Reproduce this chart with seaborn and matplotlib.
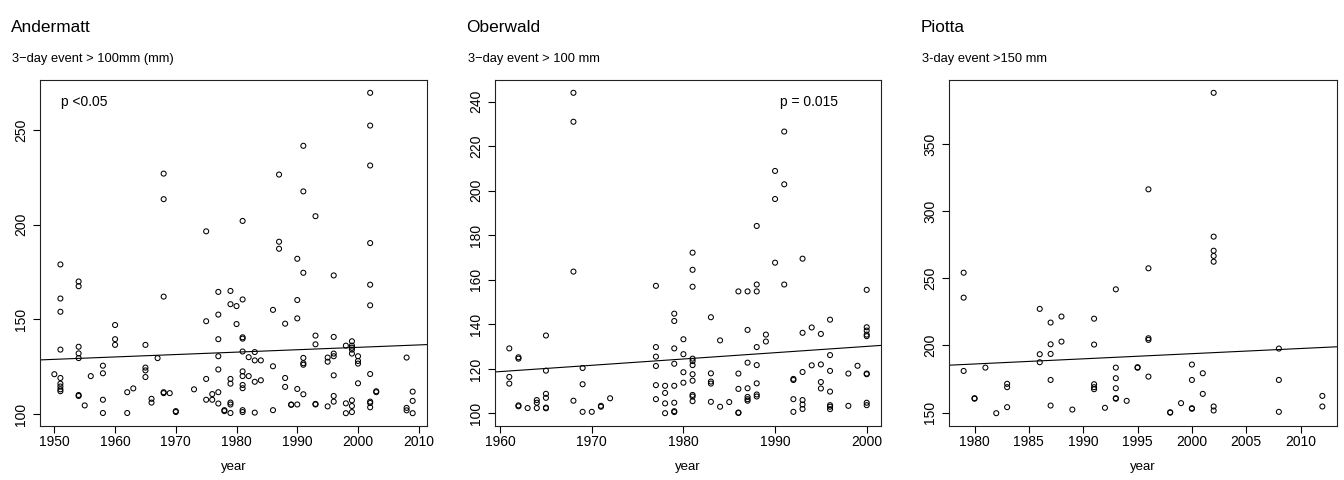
import numpy as np
import pandas as pd
import matplotlib
matplotlib.use("Agg")
import matplotlib.pyplot as plt
import seaborn as sns

# ---------------- data ----------------
andermatt_years = (
    [1950] + [1951] * 9 + [1954] * 7 + [1955, 1956] + [1958] * 4 + [1960] * 3 +
    [1962] * 2 + [1963] + [1965] * 4 + [1966] * 2 + [1967] + [1968] * 5 + [1969] +
    [1970] * 2 + [1973] + [1975] * 4 + [1976] * 2 + [1977] * 7 + [1978] * 2 +
    [1979] * 7 + [1980] * 2 + [1981] * 11 + [1982] * 2 + [1983] * 4 + [1984] * 2 +
    [1986] * 3 + [1987] * 3 + [1988] * 3 + [1989] * 2 + [1990] * 5 + [1991] * 7 +
    [1993] * 5 + [1995] * 3 + [1996] * 7 + [1998] * 3 + [1999] * 8 + [2000] * 4 +
    [2002] * 10 + [2003] * 2 + [2008] * 3 + [2009] * 3
)
andermatt_values = [
    121,
    179, 161, 154, 134, 119, 116, 114.5, 113, 112,
    170, 167.5, 135.5, 132, 129.5, 110, 109.5,
    104.5, 120,
    125.5, 121.5, 107.5, 100.5,
    147, 139.5, 136.5,
    111.5, 100.5,
    113.5,
    136.5, 124.5, 123, 119.5,
    108, 106,
    129.5,
    227, 213.5, 162, 111.5, 111,
    111,
    101.5, 101,
    113,
    196.5, 149, 118.5, 107.5,
    110.5, 107.5,
    164.5, 152.5, 139.5, 130.5, 123.5, 111.5, 105.5,
    102, 101.5,
    165, 158, 118.5, 116, 106, 105, 100.5,
    157, 147.5,
    202, 160.5, 140.5, 139.8, 133, 122.5, 120, 115.3, 113.6, 102, 101,
    130, 120,
    132.7, 128.3, 117, 100.7,
    128.3, 117.8,
    155, 125.2, 102,
    226.5, 191, 187.3,
    147.7, 119, 114.3,
    105, 104.8,
    182, 160.2, 150.5, 113.2, 105,
    241.7, 217.6, 174.6, 129.6, 126.8, 126, 110.4,
    204.5, 141.4, 136.8, 105.3, 105,
    129.8, 127.6, 104,
    173.2, 140.7, 131.9, 130.5, 120.4, 109.5, 106.5,
    136.1, 105.6, 100.4,
    138.4, 136.1, 135, 134, 131.9, 107.2, 104.2, 101,
    130.5, 128, 126.6, 116.2,
    269.7, 252.4, 231.3, 190.3, 168.3, 157.4, 121.1, 106.5, 105.8, 103.5,
    112, 111.5,
    129.8, 103.2, 101.9,
    111.8, 106.9, 100.4,
]

oberwald_years = (
    [1961] * 3 + [1962] * 4 + [1963] + [1964] * 3 + [1965] * 6 + [1968] * 4 +
    [1969] * 3 + [1970] + [1971] * 2 + [1972] + [1977] * 6 + [1978] * 4 +
    [1979] * 8 + [1980] * 4 + [1981] * 11 + [1983] * 5 + [1984] * 2 + [1985] +
    [1986] * 5 + [1987] * 7 + [1988] * 8 + [1989] * 2 + [1990] * 3 + [1991] * 3 +
    [1992] * 4 + [1993] * 6 + [1994] * 2 + [1995] * 4 + [1996] * 7 + [1998] * 2 +
    [1999] + [2000] * 9
)
oberwald_values = [
    129.2, 116.4, 113.4,
    125.2, 124.6, 103.6, 103.2,
    102.4,
    106, 104.8, 102.4,
    135, 119.2, 108.8, 107, 102.6, 102.3,
    244, 231, 163.7, 105.7,
    120.4, 113.1, 100.7,
    100.7,
    103.4, 103,
    106.8,
    157.3, 129.8, 125.5, 121.3, 112.7, 106.4,
    112.4, 109.2, 104.5, 100.1,
    144.8, 141.5, 129.2, 122.3, 112.4, 104.8, 101, 100.6,
    133.3, 126.6, 118.5, 113.8,
    172.2, 164.5, 156.9, 124.6, 123.5, 121.7, 117.6, 114.7, 108.3, 107.6, 105.5,
    143.2, 118, 114.3, 113.4, 105.2,
    132.8, 103,
    105.1,
    154.8, 117.9, 111, 100.4, 100.2,
    154.8, 137.5, 122.8, 111.3, 107.4, 106.4, 105.7,
    184.2, 157.9, 154.8, 129.8, 121.7, 113.5, 108.5, 107.6,
    135.4, 132.3,
    208.9, 196.3, 167.7,
    226.6, 202.9, 157.9,
    115.5, 115, 106.4, 100.7,
    169.5, 136.2, 118.6, 106, 104, 102,
    138.6, 121.6,
    135.7, 122, 114.1, 111.2,
    142.1, 126.2, 119.1, 109.8, 103.7, 103, 101.9,
    117.9, 103.4,
    121.4,
    155.5, 138.7, 137.2, 135.4, 134.7, 117.9, 117.6, 104.8, 103.7,
]

piotta_years = (
    [1979] * 3 + [1980] * 2 + [1981, 1982] + [1983] * 3 + [1986] * 3 + [1987] * 5 +
    [1988] * 2 + [1989] + [1991] * 5 + [1992] + [1993] * 6 + [1994] + [1995] * 2 +
    [1996] * 5 + [1998] * 2 + [1999] + [2000] * 4 + [2001] * 2 + [2002] * 7 +
    [2008] * 3 + [2012] * 2
)
piotta_values = [
    254.3, 235.7, 181,
    160.7, 160.3,
    183.5, 149.5,
    171.4, 168.9, 154,
    227.3, 193.5, 187.5,
    217.1, 200.9, 193.7, 174.3, 155.2,
    221.6, 202.9,
    152.2,
    220, 200.7, 171.1, 168.9, 167.4,
    153.5,
    241.9, 183.5, 175.6, 168.1, 160.7, 160.3,
    158.7,
    183.8, 183.4,
    316.5, 257.6, 205.4, 204.2, 176.8,
    150.2, 149.9,
    157,
    185.8, 174.3, 153.2, 152.8,
    179.3, 163.9,
    388.5, 281.2, 270.7, 266.8, 262.5, 154.5, 151.5,
    197.7, 174.3, 150.5,
    162.4, 154.5,
]

stations = ["Andermatt", "Oberwald", "Piotta"]
subtitles = ["3\u2212day event > 100mm (mm)", "3\u2212day event > 100 mm", "3-day event >150 mm"]
p_labels = ["p <0.05", "p = 0.015", None]
x_ticks = [[1950, 1960, 1970, 1980, 1990, 2000, 2010],
           [1960, 1970, 1980, 1990, 2000],
           [1980, 1985, 1990, 1995, 2000, 2005, 2010]]
y_ticks = [[100, 150, 200, 250],
           [100, 120, 140, 160, 180, 200, 220, 240],
           [150, 200, 250, 300, 350]]
# linear trend lines: value at year 2000 and slope per year
trend_at_2000 = [135.2, 130.1, 193.9]
trend_slope = [0.127, 0.283, 0.385]

years_all = [andermatt_years, oberwald_years, piotta_years]
values_all = [andermatt_values, oberwald_values, piotta_values]

# ---------------- style ----------------
sns.set_theme(style="ticks")
plt.rcParams["font.family"] = ["Liberation Sans", "DejaVu Sans"]
plt.rcParams["axes.linewidth"] = 0.8
plt.rcParams["text.color"] = "black"
plt.rcParams["axes.labelcolor"] = "black"
plt.rcParams["xtick.color"] = "black"
plt.rcParams["ytick.color"] = "black"
plt.rcParams["axes.edgecolor"] = "black"

fig = plt.figure(figsize=(13.44, 4.8), dpi=100)
W, H = 1344.0, 480.0
ax_lefts = [40, 495, 949.3]
ax_widths = [387, 386, 387.4]
ax_top, ax_bottom = 80, 426
p_pos = [(0.0535, 0.936), (0.738, 0.936), None]

for i in range(3):
    left = ax_lefts[i]
    ax = fig.add_axes([left / W, (H - ax_bottom) / H, ax_widths[i] / W, (ax_bottom - ax_top) / H])
    df = pd.DataFrame({"year": years_all[i], "value": values_all[i]})
    sns.scatterplot(data=df, x="year", y="value", ax=ax, marker="o", s=13,
                    facecolor="none", edgecolor="black", linewidth=0.75, legend=False)
    # R-style 4% axis extension
    xr = df["year"].max() - df["year"].min()
    yr = df["value"].max() - df["value"].min()
    ax.set_xlim(df["year"].min() - 0.04 * xr, df["year"].max() + 0.04 * xr)
    ax.set_ylim(df["value"].min() - 0.04 * yr, df["value"].max() + 0.04 * yr)
    ax.axline((2000, trend_at_2000[i]), slope=trend_slope[i], color="black", linewidth=0.8)
    ax.set_xticks(x_ticks[i])
    ax.set_yticks(y_ticks[i])
    ax.set_xticklabels([str(t) for t in x_ticks[i]], fontsize=10, color="black")
    ax.set_yticklabels([str(t) for t in y_ticks[i]], fontsize=10, rotation=90, va="center",
                       color="black")
    ax.tick_params(axis="both", direction="out", length=4.8, width=0.8, color="black",
                   labelcolor="black")
    ax.tick_params(axis="x", pad=1.5)
    ax.tick_params(axis="y", pad=4)
    for sp in ax.spines.values():
        sp.set_visible(True)
        sp.set_color("#222222")
        sp.set_linewidth(0.8)
    ax.set_xlabel("year", fontsize=9.5, labelpad=9, color="black")
    ax.set_ylabel("")
    if p_labels[i]:
        ax.text(p_pos[i][0], p_pos[i][1], p_labels[i], transform=ax.transAxes,
                fontsize=10, ha="left", va="center", color="black")
    fig.text((left - 29) / W, (H - 31.5) / H, stations[i], fontsize=12.4,
             ha="left", va="baseline", color="black")
    fig.text((left - 27.5) / W, (H - 62) / H, subtitles[i], fontsize=9.3,
             ha="left", va="baseline", color="black")

fig.savefig("out.png", dpi=100, facecolor="white")
